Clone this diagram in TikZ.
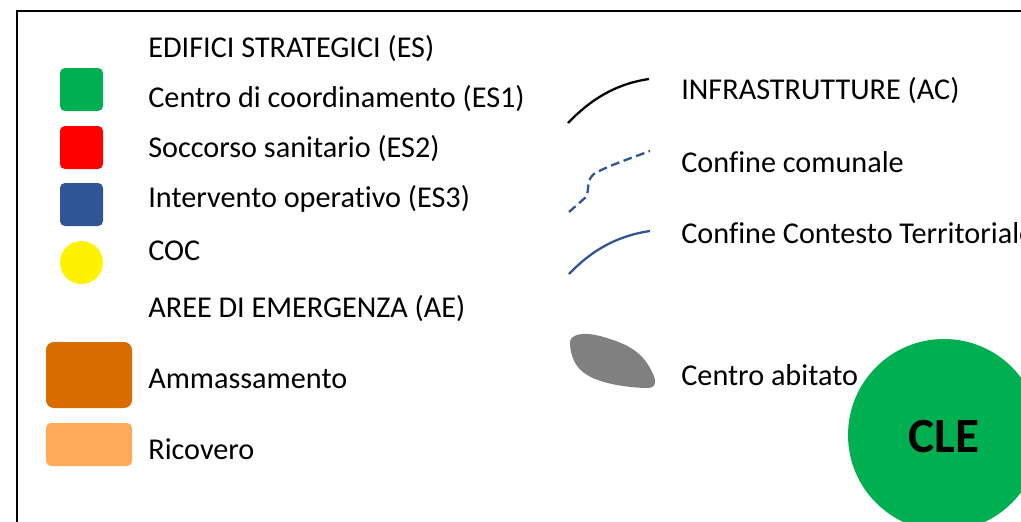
\documentclass[tikz,border=0pt]{standalone}
\usepackage{fontspec}
\setmainfont{Carlito}[Ligatures=NoCommon]
\usepackage{tikz}

\definecolor{esgreen}{RGB}{0,176,80}
\definecolor{esblue}{RGB}{47,85,151}
\definecolor{aedark}{RGB}{216,108,0}
\definecolor{aelight}{RGB}{255,170,90}

\begin{document}
\begin{tikzpicture}[x=0.02cm, y=-0.02cm,
    legtext/.style={anchor=base west, inner sep=0pt, font=\fontsize{17.2}{20}\selectfont},
    swatch/.style={rounded corners=2.8pt, draw=none}]
        \clip (0,0) rectangle (1021,521);
        % Draw the frame (cut by the page)
        \draw[line width=1.4pt] (17,11) rectangle (1100,600);

        % Edifici strategici
        \node[legtext] (tes) at (148,57) {EDIFICI STRATEGICI (ES)};
        \fill[swatch, esgreen] (60,68) rectangle (103,111);
        \node[legtext] (tes1) at (148,107) {Centro di coordinamento (ES1)};
        \fill[swatch, red] (60,126) rectangle (103,169);
        \node[legtext] (tes2) at (148,157) {Soccorso sanitario (ES2)};
        \fill[swatch, esblue] (60,183) rectangle (103,226);
        \node[legtext] (tes3) at (148,207) {Intervento operativo (ES3)};
        \fill[yellow] (81.5,262.5) circle (21.5);
        \node[legtext] (tcoc) at (148,260) {COC};

        % Aree di emergenza
        \node[legtext] (tae) at (148,317) {AREE DI EMERGENZA (AE)};
        \fill[swatch, rounded corners=4.5pt, aedark] (46,342) rectangle (132,408);
        \node[legtext] (tamm) at (148,388) {Ammassamento};
        \fill[swatch, aelight] (46,423) rectangle (132,466);
        \node[legtext] (tric) at (148,459) {Ricovero};

        % Infrastrutture and boundaries
        \draw[line width=1.3pt] (568,123) .. controls (590,100) and (615,84) .. (649,79);
        \node[legtext] (tac) at (681,99) {INFRASTRUTTURE (AC)};
        \draw[esblue, line width=1.3pt, dash pattern=on 5pt off 2.6pt]
            (569,212) -- (586,197) .. controls (590,190) and (585,178) .. (597,172)
            .. controls (612,165) .. (650,151);
        \node[legtext] (tcom) at (681,172) {Confine comunale};
        \draw[esblue, line width=1.3pt] (569,274) .. controls (591,251) and (616,236) .. (650,231);
        \node[legtext] (tct) at (681,243) {Confine Contesto Territoriale};

        % Centro abitato
        \fill[gray] (570,345) .. controls (568,333) and (585,332) .. (600,336)
            .. controls (625,343) and (640,350) .. (650,368)
            .. controls (657,380) and (658,389) .. (645,388)
            .. controls (620,387) and (595,382) .. (583,372)
            .. controls (575,366) and (571,356) .. (570,345) -- cycle;
        \node[legtext] (tabit) at (681,385) {Centro abitato};

        % CLE
        \fill[esgreen] (944,435) circle (96);
        \node[anchor=base, inner sep=0pt, font=\fontsize{28}{32}\selectfont\bfseries] (cle) at (944,452) {CLE};
\end{tikzpicture}
\end{document}
